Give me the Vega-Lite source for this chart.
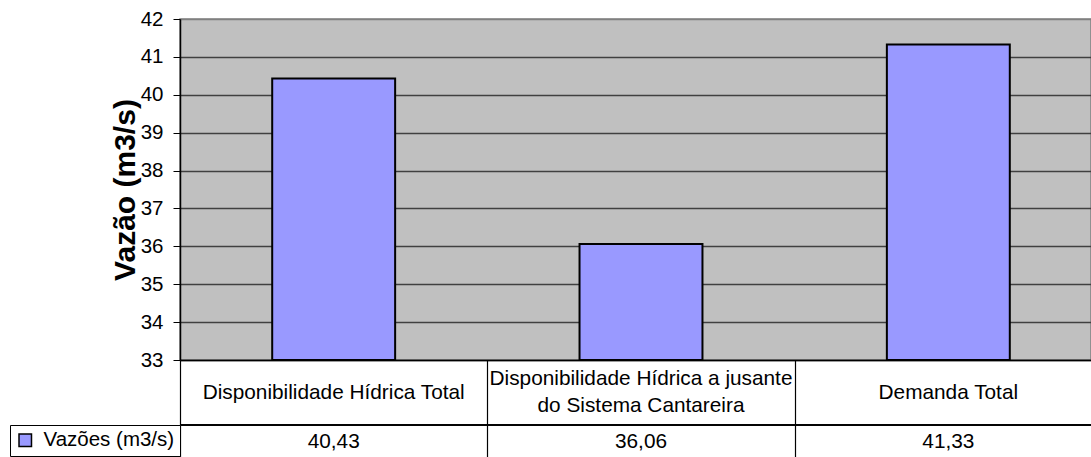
{
  "$schema": "https://vega.github.io/schema/vega-lite/v6.json",
  "width": 911,
  "height": 341,
  "autosize": {"type": "none"},
  "padding": {"left": 180, "top": 19, "right": 0, "bottom": 97},
  "background": "white",
  "config": {
    "font": "Liberation Sans",
    "locale": {"number": {"decimal": ",", "thousands": ".", "grouping": [3], "currency": ["", ""]}},
    "view": {"fill": "#C0C0C0", "stroke": "#808080", "strokeWidth": 1.5},
    "axisY": {
      "titleFontSize": 30, "titleFontWeight": "bold", "titleColor": "black", "titlePadding": 0,
      "labelFontSize": 20.5, "labelColor": "black", "labelPadding": 10, "labelOverlap": false,
      "tickSize": 7, "tickColor": "black", "domainColor": "black", "domainWidth": 1.5,
      "grid": true, "gridWidth": 1.5
    }
  },
  "data": {
    "values": [
      {"categoria": "Disponibilidade Hídrica Total", "vazao": 40.43, "serie": "Vazões (m3/s)"},
      {"categoria": "Disponibilidade Hídrica a jusante\ndo Sistema Cantareira", "vazao": 36.06, "serie": "Vazões (m3/s)"},
      {"categoria": "Demanda Total", "vazao": 41.33, "serie": "Vazões (m3/s)"}
    ]
  },
  "layer": [
    {
      "mark": {"type": "bar", "stroke": "black", "strokeWidth": 2, "width": {"band": 0.4}},
      "encoding": {
        "x": {
          "field": "categoria", "type": "nominal", "sort": null,
          "scale": {"range": [0, 922], "paddingInner": 0, "paddingOuter": 0},
          "axis": {"title": null, "labels": false, "domainColor": "black", "domainWidth": 1.5, "tickColor": "black", "tickWidth": 1.2, "tickSize": 97, "tickBand": "extent", "grid": false}
        },
        "y": {
          "field": "vazao", "type": "quantitative",
          "scale": {"domain": [33, 42], "zero": false, "nice": false},
          "axis": {"title": "Vazão (m3/s)", "values": [33, 34, 35, 36, 37, 38, 39, 40, 41, 42], "gridColor": {"condition": {"test": "datum.value == 42", "value": "#808080"}, "value": "#404040"}}
        },
        "y2": {"datum": 33},
        "color": {
          "field": "serie", "type": "nominal",
          "scale": {"range": ["#9999FF"]},
          "legend": {
            "orient": "none", "legendX": -170, "legendY": 406, "title": null,
            "symbolType": "square", "symbolSize": 156, "symbolStrokeColor": "black", "symbolStrokeWidth": 1.5,
            "labelFontSize": 20.5, "labelColor": "black", "labelOffset": 8, "padding": 5,
            "strokeColor": "black", "fillColor": "white"
          }
        }
      }
    },
    {
      "mark": {"type": "rule", "color": "black", "strokeWidth": 1.5},
      "encoding": {"y": {"datum": 31.285, "axis": {"title": "Vazão (m3/s)", "values": [33, 34, 35, 36, 37, 38, 39, 40, 41, 42], "gridColor": {"condition": {"test": "datum.value == 42", "value": "#808080"}, "value": "#404040"}}}}
    },
    {
      "transform": [{"filter": "indexof(datum.categoria, '\\n') < 0"}],
      "mark": {"type": "text", "fontSize": 20.8, "baseline": "middle", "color": "black"},
      "encoding": {
        "x": {"field": "categoria", "type": "nominal", "sort": null},
        "y": {"datum": 32.14, "axis": {"title": "Vazão (m3/s)", "values": [33, 34, 35, 36, 37, 38, 39, 40, 41, 42], "gridColor": {"condition": {"test": "datum.value == 42", "value": "#808080"}, "value": "#404040"}}},
        "text": {"field": "categoria"}
      }
    },
    {
      "transform": [{"filter": "indexof(datum.categoria, '\\n') >= 0"}],
      "mark": {"type": "text", "lineBreak": "\n", "fontSize": 20.8, "lineHeight": 27, "baseline": "middle", "color": "black"},
      "encoding": {
        "x": {"field": "categoria", "type": "nominal", "sort": null},
        "y": {"datum": 32.496, "axis": {"title": "Vazão (m3/s)", "values": [33, 34, 35, 36, 37, 38, 39, 40, 41, 42], "gridColor": {"condition": {"test": "datum.value == 42", "value": "#808080"}, "value": "#404040"}}},
        "text": {"field": "categoria"}
      }
    },
    {
      "mark": {"type": "text", "fontSize": 20.8, "baseline": "middle", "color": "black"},
      "encoding": {
        "x": {"field": "categoria", "type": "nominal", "sort": null},
        "y": {"datum": 30.84, "axis": {"title": "Vazão (m3/s)", "values": [33, 34, 35, 36, 37, 38, 39, 40, 41, 42], "gridColor": {"condition": {"test": "datum.value == 42", "value": "#808080"}, "value": "#404040"}}},
        "text": {"field": "vazao", "type": "quantitative", "format": ".2f"}
      }
    }
  ]
}
